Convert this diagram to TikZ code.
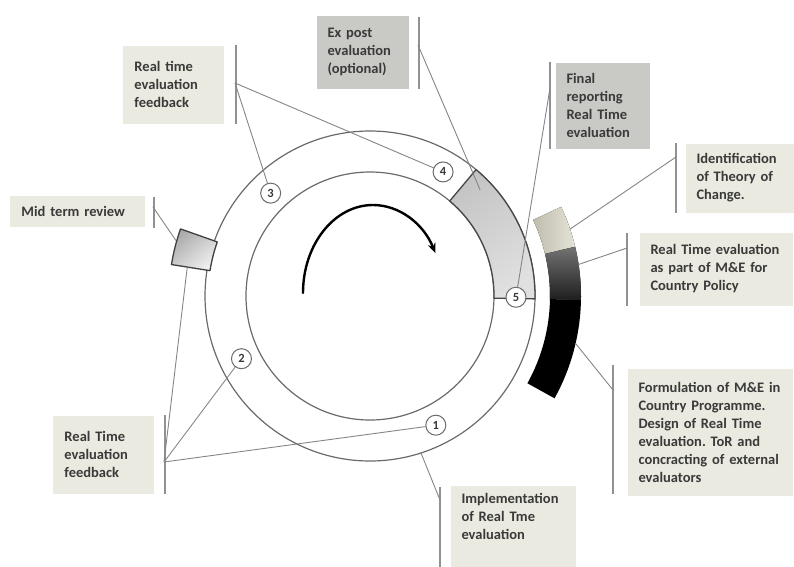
\documentclass[tikz,border=0pt]{standalone}
\usepackage{fontspec}
\setmainfont{Carlito}
\usetikzlibrary{positioning,arrows.meta}
\definecolor{cream}{HTML}{EBEAE0}
\definecolor{boxgrey}{HTML}{C9C9C6}
\definecolor{ink}{HTML}{3A3A3A}
\definecolor{ringgrey}{HTML}{6A6A6A}
\definecolor{linkgrey}{HTML}{858585}
\definecolor{palecream}{HTML}{E4E3D7}
\definecolor{darkcream}{HTML}{BEBDAD}
\begin{document}
\begin{tikzpicture}[x=1pt,y=1pt,>=stealth, line join=round, line cap=round, line width=1pt,
	font=\fontsize{14.5}{18}\selectfont\bfseries\frenchspacing,
	box/.style={fill=cream, text=ink, align=left, anchor=north west, inner xsep=11pt, inner ysep=0pt},
	greybox/.style={box, fill=boxgrey},
	bar/.style={draw=linkgrey!90, line width=1.4pt, line cap=butt},
	link/.style={draw=linkgrey, line width=0.9pt},
	num/.style={circle, draw=ringgrey, fill=white, line width=1pt, minimum size=20pt, inner sep=0pt, font=\fontsize{12.5}{12}\selectfont\bfseries, text=ink}]
	\def\rin{124}
	\def\rout{165}
	\def\rmid{145}
	\useasboundingbox (-370,-270) rectangle (424,296);
	\path (-135,213) coordinate (fbtopA)
	(-217,89) coordinate (midA)
	(48,251) coordinate (expostA)
	(180,208) coordinate (finalA)
	(306,139) coordinate (identA)
	(257,48) coordinate (rtpartA)
	(243,-94) coordinate (formA)
	(70,-204) coordinate (implA)
	(-206,-166) coordinate (fbbotA)
	(164:202) coordinate (midL)
	(171:185) coordinate (midB)
	(44:153) coordinate (segP)
	(18.5:211) coordinate (lightP)
	(8.6:211) coordinate (darkP)
	(-13:211) coordinate (blackP)
	(-72:\rout) coordinate (ringP);
	\draw[ringgrey, line width=1.2pt] (0,0) circle (\rout) (0,0) circle (\rin);
	\draw[draw=black!72, line width=1.3pt, top color=black!23, bottom color=black!12, shading angle=35]
	(-1:\rin) arc (-1:50:\rin) -- (50:\rout) arc (50:-1:\rout) -- cycle;
	\fill[left color=darkcream, right color=palecream] (13.5:180) arc (13.5:25:180) -- (25:211) arc (25:13.5:211) -- cycle;
	\fill[top color=black!55, bottom color=black!88] (-1:180) arc (-1:13.5:180) -- (13.5:211) arc (13.5:-1:211) -- cycle;
	\fill[black] (-29:180) arc (-29:-1:180) -- (-1:211) arc (-1:-29:211) -- cycle;
	\draw[draw=black!75, line width=1.3pt, top color=black!33, bottom color=black!6, shading angle=40]
	(160.5:162) arc (160.5:171:162) -- (171:201) arc (171:160.5:201) -- cycle;
	\draw[-{Stealth[length=10pt,width=8pt]}, line width=2.4pt] (-67,3) arc (180:27:70 and 88);
	\node[num] (c1) at (-63:\rmid) {1};
	\node[num] (c2) at (206:143) {2};
	\node[num] (c3) at (134:143) {3};
	\node[num] (c4) at (59.5:144) {4};
	\node[num] (c5) at (-0.5:146) {5};
	\node[box, text width=79pt, minimum height=78pt] (fbtop) at (-247,251) {Real time\\evaluation\\feedback};
	\node[box, text width=113pt, minimum height=31pt] (mid) at (-360,101) {Mid term review};
	\node[greybox, text width=70pt, minimum height=73pt] (expost) at (-54,281) {Ex post\\evaluation\\(optional)};
	\node[greybox, text width=72pt, minimum height=86pt] (final) at (185,234) {Final\\reporting\\Real Time\\evaluation};
	\node[box, text width=86pt, minimum height=69pt] (ident) at (315,153) {Identification\\of Theory of\\Change.};
	\node[box, text width=131pt, minimum height=73pt] (rtpart) at (269,64) {Real Time evaluation\\as part of M\&E for\\Country Policy};
	\node[box, text width=143pt, minimum height=127pt] (form) at (257,-72) {Formulation of M\&E in\\Country Programme.\\Design of Real Time\\evaluation. ToR and\\concracting of external\\evaluators};
	\node[box, text width=103pt, inner ysep=8pt, text depth=90pt] (impl) at (80,-189) {Implementation\\of Real Tme\\evaluation};
	\node[box, text width=79pt, minimum height=78pt] (fbbot) at (-317,-119) {Real Time\\evaluation\\feedback};
	\draw[bar] ([xshift=11pt]fbtop.north east) -- ([xshift=11pt]fbtop.south east);
	\draw[bar] ([xshift=8pt,yshift=-2pt]mid.north east) -- ([xshift=8pt,yshift=-1pt]mid.south east);
	\draw[bar] ([xshift=10pt,yshift=-2pt]expost.north east) -- ([xshift=10pt]expost.south east);
	\draw[bar] ([xshift=-5pt]final.north west) -- ([xshift=-5pt]final.south west);
	\draw[bar] ([xshift=-9pt]ident.north west) -- ([xshift=-9pt]ident.south west);
	\draw[bar] ([xshift=-12pt,yshift=-1pt]rtpart.north west) -- ([xshift=-12pt]rtpart.south west);
	\draw[bar] ([xshift=-14pt,yshift=3pt]form.north west) -- ([xshift=-14pt,yshift=2pt]form.south west);
	\draw[bar] ([xshift=-10pt,yshift=-2pt]impl.north west) -- ([xshift=-10pt]impl.south west);
	\draw[bar] ([xshift=10pt]fbbot.north east) -- ([xshift=10pt]fbbot.south east);
	\draw[link] (fbtopA) -- (c3) (fbtopA) -- (c4);
	\draw[link] (midA) -- (midL);
	\draw[link] (expostA) -- (segP);
	\draw[link] (finalA) -- (c5);
	\draw[link] (identA) -- (lightP);
	\draw[link] (rtpartA) -- (darkP);
	\draw[link] (formA) -- (blackP);
	\draw[link] (implA) -- (ringP);
	\draw[link] (fbbotA) -- (midB) (fbbotA) -- (c2) (fbbotA) -- (c1);
\end{tikzpicture}
\end{document}
